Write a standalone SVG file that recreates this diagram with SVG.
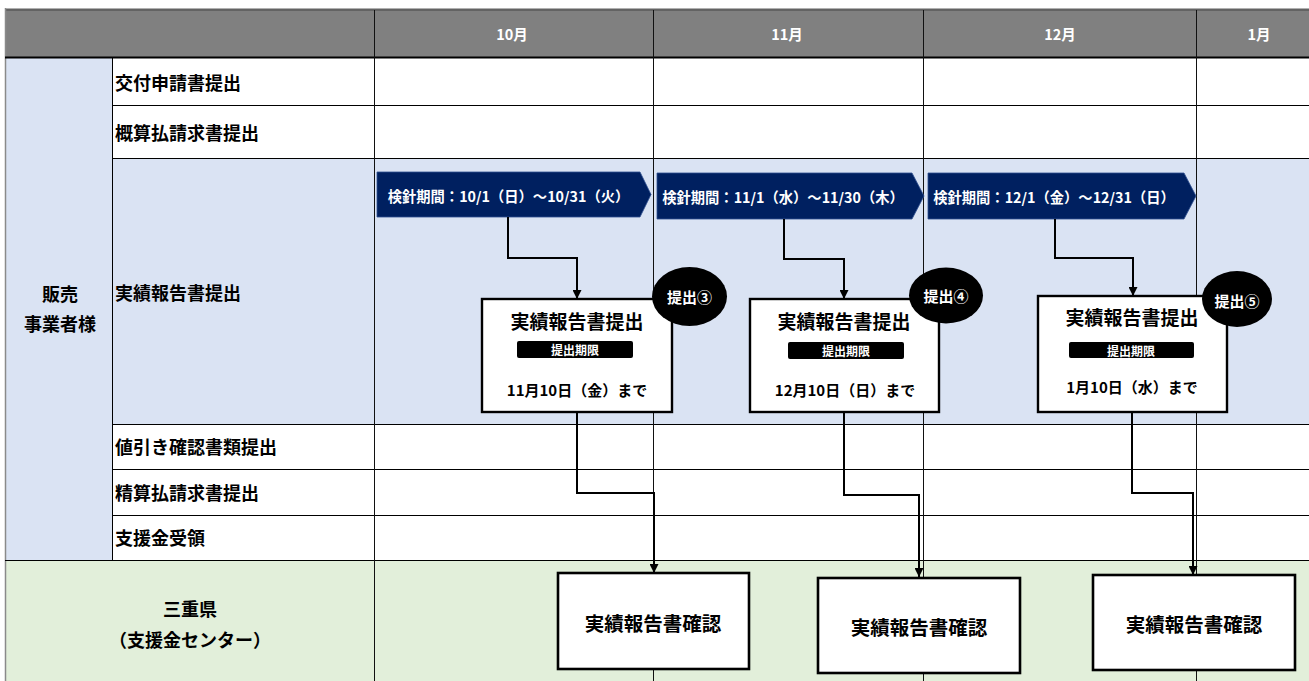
<svg xmlns="http://www.w3.org/2000/svg" width="1309" height="681" viewBox="0 0 1309 681">
<defs>
<style>
text{font-family:"Noto Sans CJK JP","Noto Sans",sans-serif;font-weight:bold;dominant-baseline:central}
.hd{fill:#fff;font-size:14.5px;text-anchor:middle}
.lb{fill:#000;font-size:18px}
.gl{stroke:#000;stroke-width:1;fill:none}
.vl{stroke:#111;stroke-width:1;fill:none}
.pent{fill:#002060;stroke:#2f4f8f;stroke-width:0.8}
.pt{fill:#fff;font-size:14.3px;text-anchor:middle}
.box{fill:#fff;stroke:#000;stroke-width:2.4}
.bt{fill:#000;font-size:19px;text-anchor:middle}
.bar{fill:#000}
.bart{fill:#fff;font-size:12px;text-anchor:middle}
.dt{fill:#000;font-size:15px;text-anchor:middle}
.bdg{fill:#000}
.bdgt{fill:#fff;font-size:15px;text-anchor:middle}
.cb{fill:#fff;stroke:#000;stroke-width:2.6}
.cbt{fill:#000;font-size:19.5px;text-anchor:middle}
.cn{stroke:#000;stroke-width:2;fill:none;marker-end:url(#ah)}
</style>
<marker id="ah" viewBox="0 0 10 10" refX="10" refY="5" markerWidth="4.5" markerHeight="4.5" orient="auto" markerUnits="strokeWidth">
<path d="M0,0 L10,5 L0,10 z" fill="#000"/>
</marker>
</defs>

<g id="background">
<rect x="0" y="0" width="1309" height="681" fill="#fff"/>
<rect x="5" y="8" width="1304" height="50" fill="#808080"/>
<rect x="5" y="58" width="107" height="502" fill="#DAE3F3"/>
<rect x="112" y="158" width="1197" height="266" fill="#DAE3F3"/>
<rect x="5" y="560" width="1304" height="121" fill="#E2EFDA"/>
</g>

<g id="grid">
<line x1="5" y1="8.5" x2="1309" y2="8.5" stroke="#b0b0b0" stroke-width="1"/>
<line x1="5" y1="10" x2="1309" y2="10" stroke="#5a5a5a" stroke-width="1.5"/>
<line x1="5.5" y1="8" x2="5.5" y2="681" stroke="#8a8a8a" stroke-width="1.5"/>
<line x1="5" y1="57.5" x2="1309" y2="57.5" stroke="#000" stroke-width="2"/>
<line class="gl" x1="112" y1="105.5" x2="1309" y2="105.5"/>
<line class="gl" x1="112" y1="158.5" x2="1309" y2="158.5"/>
<line class="gl" x1="112" y1="424.5" x2="1309" y2="424.5"/>
<line class="gl" x1="112" y1="469.5" x2="1309" y2="469.5"/>
<line class="gl" x1="112" y1="515.5" x2="1309" y2="515.5"/>
<line class="gl" x1="5" y1="560.5" x2="1309" y2="560.5" stroke-width="1.3"/>
<line class="gl" x1="112.5" y1="57.5" x2="112.5" y2="560.5"/>
<line class="vl" x1="374.5" y1="10" x2="374.5" y2="681"/>
<line class="vl" x1="653.5" y1="10" x2="653.5" y2="681"/>
<line class="vl" x1="923.5" y1="10" x2="923.5" y2="681"/>
<line class="vl" x1="1196.5" y1="10" x2="1196.5" y2="681"/>
</g>

<g id="header">
<text class="hd" x="512" y="33">10月</text>
<text class="hd" x="787" y="33">11月</text>
<text class="hd" x="1060" y="33">12月</text>
<text class="hd" x="1259" y="33">1月</text>
</g>

<g id="labels">
<text class="lb" x="60" y="293" text-anchor="middle">販売</text>
<text class="lb" x="60" y="323" text-anchor="middle">事業者様</text>
<text class="lb" x="115" y="82">交付申請書提出</text>
<text class="lb" x="115" y="132">概算払請求書提出</text>
<text class="lb" x="115" y="292">実績報告書提出</text>
<text class="lb" x="115" y="446">値引き確認書類提出</text>
<text class="lb" x="115" y="492">精算払請求書提出</text>
<text class="lb" x="115" y="537">支援金受領</text>
<text class="lb" x="190" y="608" text-anchor="middle">三重県</text>
<text class="lb" x="190" y="639" text-anchor="middle">（支援金センター）</text>
</g>

<g id="period1">
<polygon class="pent" points="377,172 640,172 651,194.5 640,217 377,217"/>
<text class="pt" x="508.5" y="195">検針期間：10/1（日）～10/31（火）</text>
</g>
<g id="period2">
<polygon class="pent" points="657,173 912,173 924,196 912,219 657,219"/>
<text class="pt" x="783" y="196">検針期間：11/1（水）～11/30（木）</text>
</g>
<g id="period3">
<polygon class="pent" points="928,173 1184,173 1196,196 1184,219 928,219"/>
<text class="pt" x="1054" y="196">検針期間：12/1（金）～12/31（日）</text>
</g>

<g id="connectors">
<path class="cn" d="M508,217 V258 H577 V299"/>
<path class="cn" d="M784,219 V259 H844 V299"/>
<path class="cn" d="M1055,219 V258 H1133 V296"/>
<path class="cn" d="M577,412 V493 H654 V573"/>
<path class="cn" d="M844,412 V495 H919 V577"/>
<path class="cn" d="M1132,412 V493 H1193 V575"/>
</g>

<g id="report1">
<rect class="box" x="482" y="299" width="190" height="113"/>
<text class="bt" x="577" y="320">実績報告書提出</text>
<rect class="bar" x="517" y="341" width="116" height="17" rx="2"/>
<text class="bart" x="575" y="349.5">提出期限</text>
<text class="dt" x="577" y="389">11月10日（金）まで</text>
</g>
<g id="report2">
<rect class="box" x="750" y="299" width="189" height="113"/>
<text class="bt" x="844" y="320">実績報告書提出</text>
<rect class="bar" x="788" y="342" width="116" height="17" rx="2"/>
<text class="bart" x="846" y="350.5">提出期限</text>
<text class="dt" x="845" y="389">12月10日（日）まで</text>
</g>
<g id="report3">
<rect class="box" x="1038" y="296" width="189" height="116"/>
<text class="bt" x="1132" y="316">実績報告書提出</text>
<rect class="bar" x="1069" y="342" width="125" height="16" rx="2"/>
<text class="bart" x="1131" y="350">提出期限</text>
<text class="dt" x="1132" y="386">1月10日（水）まで</text>
</g>

<g id="badge3">
<ellipse class="bdg" cx="689.5" cy="296.5" rx="37.5" ry="29.5"/>
<text class="bdgt" x="689.5" y="296">提出③</text>
</g>
<g id="badge4">
<ellipse class="bdg" cx="946" cy="295.5" rx="37" ry="28"/>
<text class="bdgt" x="946" y="295">提出④</text>
</g>
<g id="badge5">
<ellipse class="bdg" cx="1237" cy="299" rx="35" ry="28"/>
<text class="bdgt" x="1237" y="300">提出⑤</text>
</g>

<g id="confirm1">
<rect class="cb" x="558" y="573" width="191" height="96"/>
<text class="cbt" x="653" y="622">実績報告書確認</text>
</g>
<g id="confirm2">
<rect class="cb" x="818" y="578" width="202" height="95"/>
<text class="cbt" x="919" y="626">実績報告書確認</text>
</g>
<g id="confirm3">
<rect class="cb" x="1093" y="575" width="202" height="95"/>
<text class="cbt" x="1194" y="623">実績報告書確認</text>
</g>
</svg>
